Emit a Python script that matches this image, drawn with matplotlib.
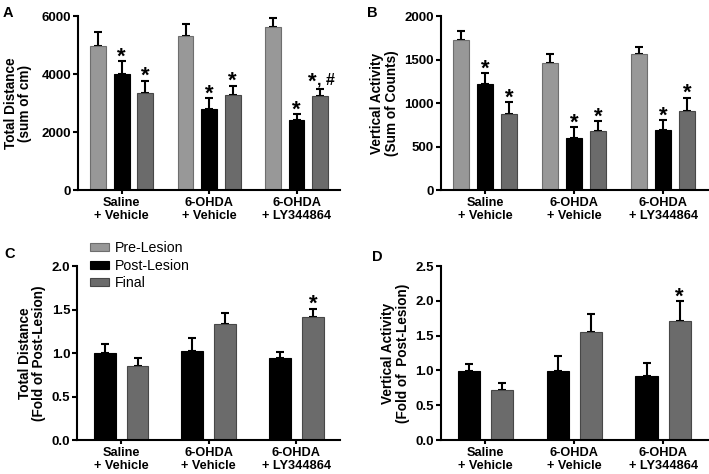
import numpy as np
import matplotlib.pyplot as plt
from matplotlib.patches import Patch

plt.rcParams['font.family'] = ['Liberation Sans', 'DejaVu Sans']

groups = ['Saline\n+ Vehicle', '6-OHDA\n+ Vehicle', '6-OHDA\n+ LY344864']

# A: total distance (sum of cm)
a_pre = [4970, 5310, 5630]
a_pre_err = [470, 410, 320]
a_post = [4010, 2790, 2410]
a_post_err = [430, 390, 200]
a_fin = [3360, 3290, 3240]
a_fin_err = [410, 310, 250]
a_marks_post = ['*', '*', '*']
a_marks_fin = ['*', '*', '*#']

# B: vertical activity (sum of counts)
b_pre = [1720, 1465, 1560]
b_pre_err = [110, 95, 85]
b_post = [1222, 594, 686]
b_post_err = [123, 130, 119]
b_fin = [877, 674, 912]
b_fin_err = [134, 119, 149]
b_marks_post = ['*', '*', '*']
b_marks_fin = ['*', '*', '*']

# C: total distance, fold of post-lesion
c_post = [1.0, 1.02, 0.945]
c_post_err = [0.10, 0.15, 0.07]
c_fin = [0.855, 1.33, 1.41]
c_fin_err = [0.09, 0.13, 0.10]
c_marks_fin = ['', '', '*']

# D: vertical activity, fold of post-lesion
d_post = [0.99, 0.99, 0.925]
d_post_err = [0.10, 0.22, 0.18]
d_fin = [0.715, 1.555, 1.71]
d_fin_err = [0.105, 0.26, 0.29]
d_marks_fin = ['', '', '*']

c_pre_col = '#989898'
c_post_col = '#000000'
c_fin_col = '#6b6b6b'
edge = {c_pre_col: '#6e6e6e', c_post_col: '#000000', c_fin_col: '#474747'}

fig = plt.figure(figsize=(7.09, 4.74), dpi=100)


def style_ax(ax, ylim, yticks, ylabel, fmt, lpad=4):
    ax.set_xlim(-0.5, 2.5)
    ax.set_ylim(*ylim)
    ax.set_yticks(yticks)
    ax.set_yticklabels([fmt % v for v in yticks], fontweight='bold', fontsize=9.5)
    ax.set_xticks(range(3))
    ax.set_xticklabels(groups, fontweight='bold', fontsize=9.2, linespacing=1.15)
    for s in ['top', 'right']:
        ax.spines[s].set_visible(False)
    for s in ['left', 'bottom']:
        ax.spines[s].set_linewidth(1.5)
    ax.tick_params(width=1.5, length=3.5, pad=1.5)
    ax.tick_params(axis='x', length=3, pad=2)
    ax.set_ylabel(ylabel, fontweight='bold', fontsize=9.8, linespacing=1.05, labelpad=lpad)


def bars(ax, off, vals, errs, col, w, marks=None):
    x = np.arange(3) + off
    ax.bar(x, vals, w, color=col, edgecolor=edge[col], linewidth=0.8, zorder=2)
    ax.errorbar(x, vals, yerr=[np.zeros(3), errs], fmt='none', ecolor='black',
                elinewidth=1.5, capsize=3, capthick=1.5, zorder=1)
    if marks:
        for xi, v, e, m in zip(x, vals, errs, marks):
            top = v + e
            if m == '*':
                ax.annotate('*', (xi, top), xytext=(0, -1), textcoords='offset points',
                            ha='center', va='baseline', fontsize=16, fontweight='bold')
            elif m == '*#':
                ax.annotate('*', (xi, top), xytext=(-6, 1), textcoords='offset points',
                            ha='center', va='baseline', fontsize=16, fontweight='bold')
                ax.annotate(', #', (xi, top), xytext=(-2.5, 3), textcoords='offset points',
                            ha='left', va='baseline', fontsize=11.5, fontweight='bold')


# panel A
axA = fig.add_axes([0.110, 0.599, 0.370, 0.367])
w3 = 0.18
o3 = 0.27
bars(axA, -o3, a_pre, a_pre_err, c_pre_col, w3)
bars(axA, 0, a_post, a_post_err, c_post_col, w3, a_marks_post)
bars(axA, o3, a_fin, a_fin_err, c_fin_col, w3, a_marks_fin)
style_ax(axA, (0, 6000), [0, 2000, 4000, 6000], 'Total Distance\n(sum of cm)', '%d', 6.5)

# panel B
axB = fig.add_axes([0.622, 0.599, 0.376, 0.367])
bars(axB, -o3, b_pre, b_pre_err, c_pre_col, w3)
bars(axB, 0, b_post, b_post_err, c_post_col, w3, b_marks_post)
bars(axB, o3, b_fin, b_fin_err, c_fin_col, w3, b_marks_fin)
style_ax(axB, (0, 2000), [0, 500, 1000, 1500, 2000], 'Vertical Activity\n(Sum of Counts)', '%d')

# panel C
axC = fig.add_axes([0.109, 0.0717, 0.371, 0.367])
w2 = 0.25
o2 = 0.187
bars(axC, -o2, c_post, c_post_err, c_post_col, w2)
bars(axC, o2, c_fin, c_fin_err, c_fin_col, w2, c_marks_fin)
style_ax(axC, (0, 2.0), [0.0, 0.5, 1.0, 1.5, 2.0], 'Total Distance\n(Fold of Post-Lesion)', '%.1f')

# panel D
axD = fig.add_axes([0.622, 0.0717, 0.376, 0.367])
bars(axD, -o2, d_post, d_post_err, c_post_col, w2)
bars(axD, o2, d_fin, d_fin_err, c_fin_col, w2, d_marks_fin)
style_ax(axD, (0, 2.5), [0.0, 0.5, 1.0, 1.5, 2.0, 2.5], 'Vertical Activity\n(Fold of  Post-Lesion)', '%.1f')

# legend
handles = [Patch(facecolor=c, edgecolor=edge[c], linewidth=0.8, label=l)
           for c, l in [(c_pre_col, 'Pre-Lesion'), (c_post_col, 'Post-Lesion'),
                        (c_fin_col, 'Final')]]
fig.legend(handles=handles, loc='upper left', bbox_to_anchor=(0.127, 0.491),
           frameon=False, fontsize=10.2, handlelength=1.35, handleheight=0.5,
           handletextpad=0.4, labelspacing=0.25, borderaxespad=0, borderpad=0)

for lbl, xx, yy in [('A', 0.004, 0.988), ('B', 0.518, 0.988),
                    ('C', 0.006, 0.478), ('D', 0.524, 0.473)]:
    fig.text(xx, yy, lbl, fontsize=10.5, fontweight='bold', va='top')

fig.savefig('out.png', dpi=100)
